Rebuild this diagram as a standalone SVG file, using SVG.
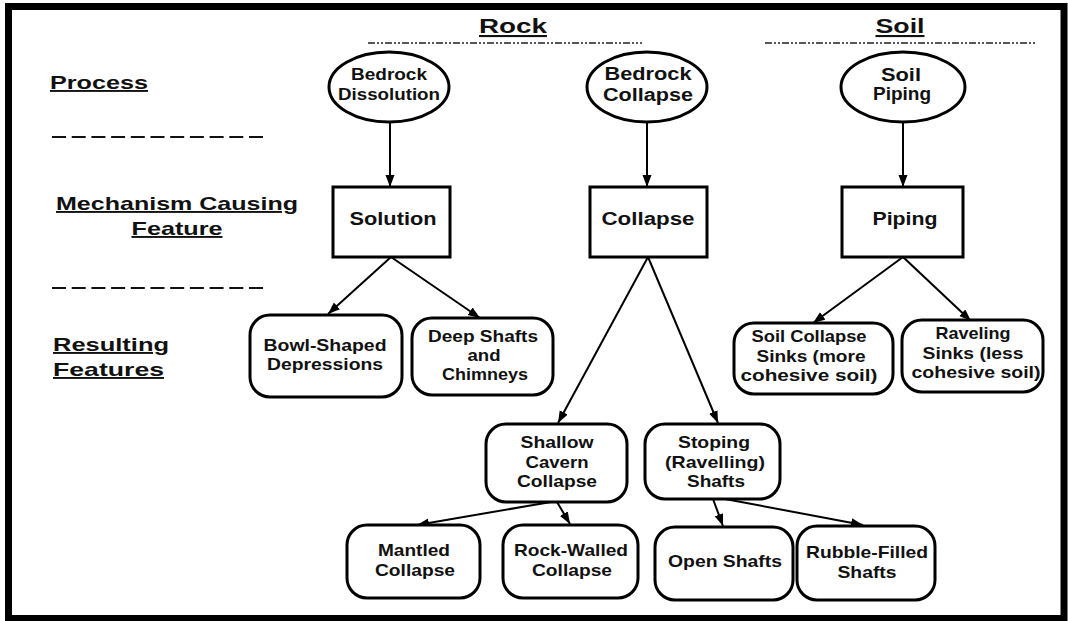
<svg xmlns="http://www.w3.org/2000/svg" width="1068" height="621" viewBox="0 0 1068 621">
<defs>
<marker id="ah" markerUnits="userSpaceOnUse" markerWidth="13" markerHeight="10" refX="12" refY="4.5" orient="auto">
<path d="M0,0 L12,4.5 L0,9 z" fill="#000"/>
</marker>
<style>
text{font-family:"Liberation Sans",Arial,sans-serif;font-weight:bold;fill:#111;text-anchor:middle;}
.hdr{font-size:21px;text-decoration:underline;}
.lbl{font-size:19px;text-decoration:underline;}
.st{text-anchor:start;}
.n{font-size:17px;}
.m{font-size:18px;}
.s{font-size:16px;}
.shape{fill:#fff;stroke:#000;stroke-width:3;}
.conn line{stroke:#000;stroke-width:2;marker-end:url(#ah);}
.dd{stroke:#222;stroke-width:1.6;stroke-dasharray:7 2 2 2 2 2;fill:none;}
.rd{stroke:#111;stroke-width:2;stroke-dasharray:14 5.7;fill:none;}
</style>
</defs>
<rect x="0" y="0" width="1068" height="621" fill="#fff"/>
<rect x="8.5" y="6.5" width="1055.5" height="612" fill="none" stroke="#000" stroke-width="7"/>

<g id="headers">
<text class="hdr" x="513" y="33" textLength="68" lengthAdjust="spacingAndGlyphs">Rock</text>
<text class="hdr" x="900" y="33" textLength="49" lengthAdjust="spacingAndGlyphs">Soil</text>
<line class="dd" x1="368" y1="43" x2="642" y2="43"/>
<line class="dd" x1="765" y1="43" x2="1036" y2="43"/>
</g>

<g id="row-labels">
<text class="lbl st" x="50" y="89" textLength="98" lengthAdjust="spacingAndGlyphs">Process</text>
<line class="rd" x1="52" y1="137" x2="263" y2="137"/>
<text class="lbl" x="177" y="210" textLength="242" lengthAdjust="spacingAndGlyphs">Mechanism Causing</text>
<text class="lbl" x="177" y="235" textLength="91" lengthAdjust="spacingAndGlyphs">Feature</text>
<line class="rd" x1="52" y1="288" x2="263" y2="288"/>
<text class="lbl st" x="53" y="351" textLength="116" lengthAdjust="spacingAndGlyphs">Resulting</text>
<text class="lbl st" x="53" y="376" textLength="111" lengthAdjust="spacingAndGlyphs">Features</text>
</g>

<g id="connectors" class="conn">
<line x1="390" y1="122" x2="390" y2="187"/>
<line x1="647" y1="122" x2="647" y2="187"/>
<line x1="903" y1="122" x2="903" y2="187"/>
<line x1="391" y1="257" x2="328" y2="314"/>
<line x1="391" y1="257" x2="480" y2="318"/>
<line x1="648" y1="257" x2="558" y2="423"/>
<line x1="648" y1="257" x2="718" y2="423"/>
<line x1="903" y1="257" x2="813" y2="323"/>
<line x1="903" y1="257" x2="971" y2="321"/>
<line x1="551" y1="502" x2="417" y2="525"/>
<line x1="557" y1="502" x2="570" y2="524"/>
<line x1="713" y1="499" x2="723" y2="526"/>
<line x1="725" y1="499" x2="863" y2="525"/>
</g>

<g id="bedrock-dissolution">
<ellipse class="shape" cx="389" cy="87" rx="60" ry="35"/>
<text class="s" x="389" y="80" textLength="76" lengthAdjust="spacingAndGlyphs">Bedrock</text>
<text class="s" x="389" y="100" textLength="102" lengthAdjust="spacingAndGlyphs">Dissolution</text>
</g>
<g id="bedrock-collapse">
<ellipse class="shape" cx="647" cy="87" rx="60" ry="35"/>
<text class="m" x="648" y="80" textLength="87" lengthAdjust="spacingAndGlyphs">Bedrock</text>
<text class="m" x="648" y="101" textLength="90" lengthAdjust="spacingAndGlyphs">Collapse</text>
</g>
<g id="soil-piping">
<ellipse class="shape" cx="903" cy="87" rx="62" ry="35"/>
<text class="m" x="901" y="81" textLength="40" lengthAdjust="spacingAndGlyphs">Soil</text>
<text class="m" x="902" y="100" textLength="58" lengthAdjust="spacingAndGlyphs">Piping</text>
</g>

<g id="solution">
<rect class="shape" x="333" y="187" width="117" height="70"/>
<text class="m" x="393" y="225" textLength="87" lengthAdjust="spacingAndGlyphs">Solution</text>
</g>
<g id="collapse">
<rect class="shape" x="590" y="187" width="117" height="70"/>
<text class="m" x="648" y="225" textLength="93" lengthAdjust="spacingAndGlyphs">Collapse</text>
</g>
<g id="piping">
<rect class="shape" x="842" y="187" width="121" height="70"/>
<text class="m" x="905" y="225" textLength="65" lengthAdjust="spacingAndGlyphs">Piping</text>
</g>

<g id="bowl-shaped">
<rect class="shape" x="250" y="315" width="152" height="82" rx="20"/>
<text class="n" x="325" y="351" textLength="123" lengthAdjust="spacingAndGlyphs">Bowl-Shaped</text>
<text class="n" x="325" y="370" textLength="116" lengthAdjust="spacingAndGlyphs">Depressions</text>
</g>
<g id="deep-shafts">
<rect class="shape" x="412" y="318" width="141" height="77" rx="20"/>
<text class="n" x="483" y="342" textLength="110" lengthAdjust="spacingAndGlyphs">Deep Shafts</text>
<text class="n" x="484" y="361" textLength="33" lengthAdjust="spacingAndGlyphs">and</text>
<text class="n" x="485" y="380" textLength="86" lengthAdjust="spacingAndGlyphs">Chimneys</text>
</g>
<g id="soil-collapse-sinks">
<rect class="shape" x="734" y="323" width="159" height="71" rx="20"/>
<text class="n" x="809" y="342" textLength="115" lengthAdjust="spacingAndGlyphs">Soil Collapse</text>
<text class="n" x="811" y="362" textLength="109" lengthAdjust="spacingAndGlyphs">Sinks (more</text>
<text class="n" x="809" y="381" textLength="137" lengthAdjust="spacingAndGlyphs">cohesive soil)</text>
</g>
<g id="raveling-sinks">
<rect class="shape" x="902" y="320" width="141" height="72" rx="20"/>
<text class="n" x="973" y="339" textLength="75" lengthAdjust="spacingAndGlyphs">Raveling</text>
<text class="n" x="973" y="359" textLength="101" lengthAdjust="spacingAndGlyphs">Sinks (less</text>
<text class="n" x="976" y="378" textLength="129" lengthAdjust="spacingAndGlyphs">cohesive soil)</text>
</g>
<g id="shallow-cavern-collapse">
<rect class="shape" x="486" y="424" width="141" height="78" rx="20"/>
<text class="n" x="557" y="448" textLength="73" lengthAdjust="spacingAndGlyphs">Shallow</text>
<text class="n" x="557" y="468" textLength="63" lengthAdjust="spacingAndGlyphs">Cavern</text>
<text class="n" x="557" y="487" textLength="80" lengthAdjust="spacingAndGlyphs">Collapse</text>
</g>
<g id="stoping-shafts">
<rect class="shape" x="645" y="424" width="135" height="75" rx="20"/>
<text class="n" x="714" y="448" textLength="72" lengthAdjust="spacingAndGlyphs">Stoping</text>
<text class="n" x="715" y="468" textLength="100" lengthAdjust="spacingAndGlyphs">(Ravelling)</text>
<text class="n" x="716" y="487" textLength="58" lengthAdjust="spacingAndGlyphs">Shafts</text>
</g>
<g id="mantled-collapse">
<rect class="shape" x="347" y="525" width="133" height="73" rx="20"/>
<text class="n" x="414" y="556" textLength="72" lengthAdjust="spacingAndGlyphs">Mantled</text>
<text class="n" x="415" y="576" textLength="80" lengthAdjust="spacingAndGlyphs">Collapse</text>
</g>
<g id="rock-walled-collapse">
<rect class="shape" x="503" y="525" width="135" height="73" rx="20"/>
<text class="n" x="571" y="556" textLength="114" lengthAdjust="spacingAndGlyphs">Rock-Walled</text>
<text class="n" x="572" y="576" textLength="80" lengthAdjust="spacingAndGlyphs">Collapse</text>
</g>
<g id="open-shafts">
<rect class="shape" x="655" y="527" width="138" height="73" rx="20"/>
<text class="n" x="725" y="567" textLength="114" lengthAdjust="spacingAndGlyphs">Open Shafts</text>
</g>
<g id="rubble-filled-shafts">
<rect class="shape" x="797" y="526" width="138" height="74" rx="20"/>
<text class="n" x="867" y="558" textLength="122" lengthAdjust="spacingAndGlyphs">Rubble-Filled</text>
<text class="n" x="867" y="578" textLength="59" lengthAdjust="spacingAndGlyphs">Shafts</text>
</g>
</svg>
